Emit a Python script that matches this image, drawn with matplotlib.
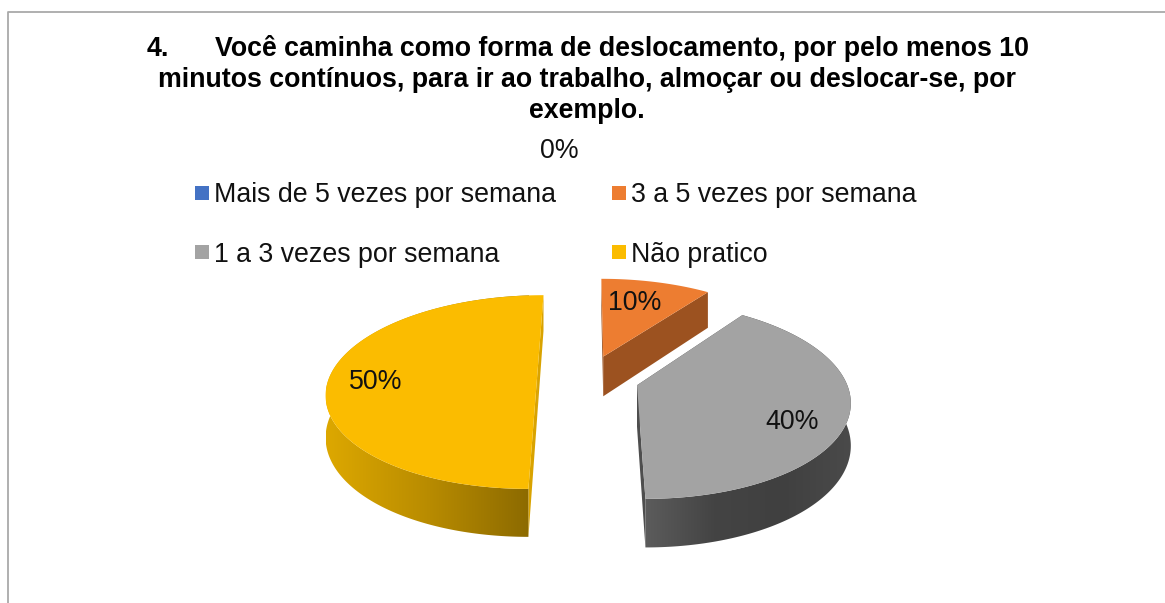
import numpy as np
import matplotlib
matplotlib.use("Agg")
import matplotlib.pyplot as plt
from matplotlib.colors import LinearSegmentedColormap
from matplotlib.patches import Polygon, Rectangle

plt.rcParams['font.family'] = ['Liberation Sans', 'DejaVu Sans']

# ---- data ----
categories = ["Mais de 5 vezes por semana", "3 a 5 vezes por semana",
              "1 a 3 vezes por semana", "Não pratico"]
values = [0, 10, 40, 50]
title_lines = ["Você caminha como forma de deslocamento, por pelo menos 10",
               "minutos contínuos, para ir ao trabalho, almoçar ou deslocar-se, por",
               "exemplo."]
title_number = "4."

# ---- styles ----
top_colors = ["#4472C4", "#ED7D31", "#A3A3A3", "#FBBC00"]
cut_colors = [None, "#9C5220", "#4E4E4E", "#D9A300"]
side_stops = [None, ["#9C5220", "#9C5220"],
              ["#5C5C5C", "#444444", "#404040", "#4A4A4A"],
              ["#DDA800", "#B98C00", "#8C6A00"]]

# ---- projection (pixels) ----
W, H = 1165, 603
X0, YV, YC = 588.0, -276.0, 378.0
A, K, EXPLODE, DEPTH = 208.0, 0.145, 0.245, 41.0


def project(px, py, lower=False):
    w = 1 + K * py
    sx = X0 + A * px / w
    sy = YV + (YC - YV + (DEPTH if lower else 0.0)) / w
    return sx, sy


fig = plt.figure(figsize=(W / 100, H / 100), dpi=100, facecolor="white")
ax = fig.add_axes([0, 0, 1, 1])
ax.set_xlim(0, W)
ax.set_ylim(H, 0)
ax.axis("off")

# chart frame
ax.plot([7.5, 7.5, W + 5], [H + 5, 11.5, 11.5], color="#A9A9A9", lw=1.3, zorder=1)

# slices, clockwise from 12 o'clock
total = sum(values)
angles = np.cumsum([0] + values) / total * 2 * np.pi


def slice_geometry(a0, a1):
    mid = (a0 + a1) / 2
    cx, cy = EXPLODE * np.sin(mid), EXPLODE * np.cos(mid)
    t = np.linspace(a0, a1, 200)
    rx, ry = cx + np.sin(t), cy + np.cos(t)
    return cx, cy, rx, ry


for i in [1, 2, 3]:
    cx, cy, rx, ry = slice_geometry(angles[i], angles[i + 1])
    tx, ty = project(rx, ry)
    bx, by = project(rx, ry, lower=True)
    ax0, ay0 = project(cx, cy)
    ax1, ay1 = project(cx, cy, lower=True)

    # straight cut faces
    for e in (0, -1):
        face = [(ax0, ay0), (ax0, ay1), (tx[e], by[e]), (tx[e], ty[e])]
        ax.add_patch(Polygon(face, closed=True, fc=cut_colors[i], ec="none", zorder=2))

    # outer rim with horizontal gradient
    rim = np.r_[np.c_[tx, ty], np.c_[tx[::-1], by[::-1]]]
    patch = Polygon(rim, closed=True, fc="none", ec="none", zorder=3)
    ax.add_patch(patch)
    cmap = LinearSegmentedColormap.from_list("rim", side_stops[i])
    grad = np.linspace(0, 1, 256)[None, :]
    if i == 3:
        x_a, x_b = tx.min(), tx[0]
    else:
        x_a, x_b = tx[-1], tx.max()
    im = ax.imshow(grad, extent=[x_a, x_b, H, 0], cmap=cmap, aspect="auto", zorder=3)
    im.set_clip_path(patch)

    # top face
    top = np.r_[[[ax0, ay0]], np.c_[tx, ty]]
    ax.add_patch(Polygon(top, closed=True, fc=top_colors[i], ec="none", zorder=4))

ax.set_xlim(0, W)
ax.set_ylim(H, 0)

# title
TITLE_SIZE = 19.25
ax.text(147, 56, title_number, fontsize=TITLE_SIZE, fontweight="bold", va="baseline", ha="left", zorder=6)
for line, x, y in zip(title_lines, [622, 587.5, 587], [56, 87, 118]):
    ax.text(x, y, line, fontsize=TITLE_SIZE, fontweight="bold", va="baseline", ha="center", zorder=6)

# legend
TEXT_SIZE = 19.3
legend_pos = [(195, 186), (612, 186), (195, 245), (612, 245)]
for name, color, (x, y) in zip(categories, top_colors, legend_pos):
    ax.add_patch(Rectangle((x, y), 14, 14, fc=color, ec="none", zorder=6))
    ax.text(x + 19, y + 16.5, name, fontsize=TEXT_SIZE, va="baseline", ha="left", color="#111111", zorder=6)

# data labels
label_pos = [(559.5, 158), (635, 310), (792, 429), (375.5, 389)]
for v, (x, y) in zip(values, label_pos):
    ax.text(x, y, f"{v}%", fontsize=TEXT_SIZE, va="baseline", ha="center", color="#111111", zorder=6)

fig.savefig("out.png", dpi=100, facecolor="white")
